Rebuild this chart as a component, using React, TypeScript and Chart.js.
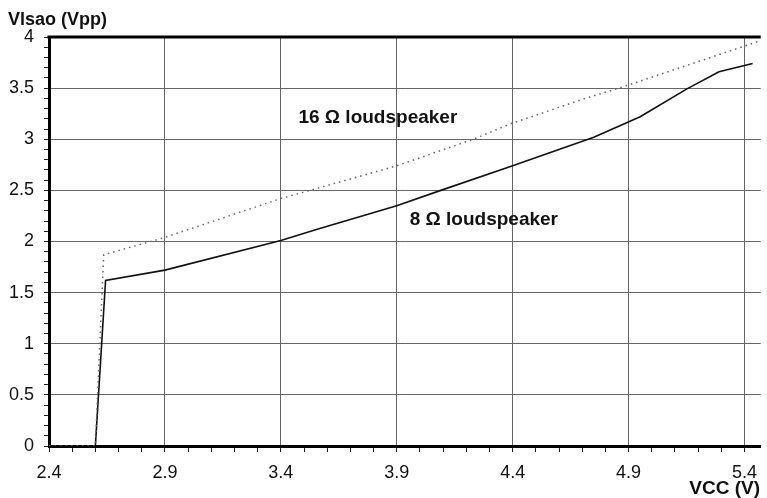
import React, { useEffect, useRef } from "react";
import { Chart, registerables } from "chart.js";

Chart.register(...registerables);

// Axis ranges / ticks
const X_MIN = 2.4;
const X_MAX = 5.47;
const Y_MIN = 0;
const Y_MAX = 4;
const X_MAJOR = [2.4, 2.9, 3.4, 3.9, 4.4, 4.9, 5.4];
const Y_MAJOR = [0, 0.5, 1, 1.5, 2, 2.5, 3, 3.5, 4];
const MINOR_STEP = 0.1;

// 8 ohm loudspeaker (solid)
const vcc8 = [2.4, 2.6, 2.644, 2.9, 3.4, 3.557, 3.9, 4.09, 4.4, 4.75, 4.95, 5.15, 5.29, 5.435];
const vout8 = [0, 0, 1.62, 1.72, 2.01, 2.12, 2.35, 2.5, 2.74, 3.02, 3.22, 3.49, 3.66, 3.74];

// 16 ohm loudspeaker (dotted)
const vcc16 = [2.4, 2.6, 2.636, 2.9, 3.4, 3.9, 4.23, 4.39, 4.7, 4.886, 5.465];
const vout16 = [0, 0, 1.87, 2.04, 2.42, 2.74, 3.0, 3.15, 3.39, 3.52, 3.96];

// Annotation labels (text, anchor in data units)
const labelTexts = ["16 Ω loudspeaker", "8 Ω loudspeaker"];
const labelX = [3.476, 3.956];
const labelY = [3.215, 2.215];

const FONT = "'Liberation Sans', Arial, Helvetica, sans-serif";

const minorTicks = (lo: number, hi: number) => {
  const out: { value: number }[] = [];
  const n = Math.floor((hi - lo) / MINOR_STEP + 1e-6);
  for (let i = 0; i <= n; i++) out.push({ value: Math.round((lo + i * MINOR_STEP) * 1000) / 1000 });
  return out;
};

const near = (arr: number[], v: number) => arr.find((m) => Math.abs(m - v) < 1e-6);

const textPlugin = {
  id: "texts",
  afterDraw(chart: any) {
    const { ctx, chartArea, scales } = chart;
    ctx.save();
    // top border
    ctx.strokeStyle = "#000";
    ctx.lineWidth = 3;
    ctx.beginPath();
    ctx.moveTo(chartArea.left - 1.5, chartArea.top);
    ctx.lineTo(chartArea.right, chartArea.top);
    ctx.stroke();

    ctx.fillStyle = "#111";
    ctx.textBaseline = "alphabetic";
    ctx.textAlign = "left";
    ctx.font = `bold 18px ${FONT}`;
    ctx.fillText("Vlsao (Vpp)", 8, 25);
    ctx.textAlign = "right";
    ctx.font = `bold 19px ${FONT}`;
    ctx.fillText("VCC (V)", 760, 494);

    ctx.textAlign = "left";
    ctx.textBaseline = "middle";
    labelTexts.forEach((t, i) => {
      const px = scales.x.getPixelForValue(labelX[i]);
      const py = scales.y.getPixelForValue(labelY[i]);
      ctx.font = `bold 19px ${FONT}`;
      ctx.fillText(t, px, py);
    });
    ctx.restore();
  },
};

export default function App() {
  const ref = useRef<HTMLCanvasElement | null>(null);
  useEffect(() => {
    if (!ref.current) return;
    const chart = new Chart(ref.current, {
      type: "line",
      data: {
        datasets: [
          {
            label: "16 Ω loudspeaker",
            data: vcc16.map((x, i) => ({ x, y: vout16[i] })),
            borderColor: "#666",
            borderWidth: 1.5,
            borderDash: [1.5, 4],
            pointRadius: 0,
            tension: 0,
            fill: false,
          },
          {
            label: "8 Ω loudspeaker",
            data: vcc8.map((x, i) => ({ x, y: vout8[i] })),
            borderColor: "#111",
            borderWidth: 1.6,
            pointRadius: 0,
            tension: 0,
            fill: false,
          },
        ],
      },
      options: {
        animation: false,
        responsive: true,
        maintainAspectRatio: false,
        layout: { padding: { top: 37, left: 0, right: 0, bottom: 0 } },
        plugins: { legend: { display: false }, tooltip: { enabled: false }, title: { display: false } },
        scales: {
          x: {
            type: "linear",
            min: X_MIN,
            max: X_MAX,
            afterBuildTicks: (s: any) => {
              s.ticks = minorTicks(X_MIN, X_MAX);
            },
            afterFit: (s: any) => {
              s.height = 52;
            },
            border: { color: "#000", width: 3 },
            grid: {
              color: (c: any) =>
                c.tick && near(X_MAJOR, c.tick.value) !== undefined && c.tick.value > X_MIN + 1e-6
                  ? "#666"
                  : "rgba(0,0,0,0)",
              tickColor: "#222",
              tickLength: 6,
              lineWidth: 1,
            },
            ticks: {
              autoSkip: false,
              maxRotation: 0,
              padding: 10,
              color: "#111",
              font: { family: FONT, size: 18 },
              callback: (v: any) => {
                const m = near(X_MAJOR, Number(v));
                return m !== undefined ? m.toFixed(1) : "";
              },
            },
          },
          y: {
            type: "linear",
            min: Y_MIN,
            max: Y_MAX,
            afterBuildTicks: (s: any) => {
              s.ticks = minorTicks(Y_MIN, Y_MAX);
            },
            afterFit: (s: any) => {
              s.width = 49;
            },
            border: { color: "#000", width: 3 },
            grid: {
              color: (c: any) =>
                c.tick && near(Y_MAJOR, c.tick.value) !== undefined && c.tick.value > 1e-6 && c.tick.value < Y_MAX - 1e-6
                  ? "#666"
                  : "rgba(0,0,0,0)",
              tickColor: "#222",
              tickLength: 5,
              lineWidth: 1,
            },
            ticks: {
              autoSkip: false,
              padding: 10,
              color: "#111",
              font: { family: FONT, size: 18 },
              callback: (v: any) => {
                const m = near(Y_MAJOR, Number(v));
                return m !== undefined ? String(m) : "";
              },
            },
          },
        },
      },
      plugins: [textPlugin],
    });
    return () => chart.destroy();
  }, []);
  return (
    <div style={{ position: "fixed", left: 0, top: 0, width: 767, height: 498, background: "#fff" }}>
      <canvas ref={ref} />
    </div>
  );
}
